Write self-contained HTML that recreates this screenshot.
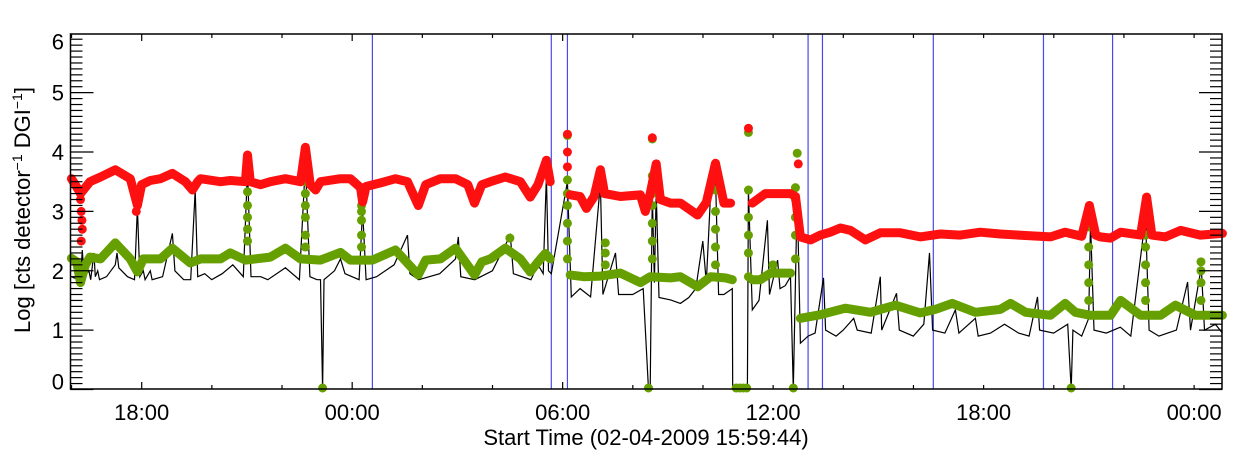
<!DOCTYPE html>
<html><head><meta charset="utf-8"><style>
html,body{margin:0;padding:0;background:#fff;}
svg{display:block;font-family:"Liberation Sans",sans-serif;}
</style></head><body>
<svg id="chart" width="1240" height="460" viewBox="0 0 1240 460">
<g id="vlines"></g><g id="black"></g><g id="green"></g><g id="red"></g><g id="axes"></g>
</svg>
<script>
// hours since start (15:59:44), log values
const redTimes=[0,0.11,0.26,0.53,0.83,1.25,1.68,1.88,2.0,2.25,2.54,2.88,3.25,3.45,3.6,3.68,4.25,4.53,4.96,5.02,5.10,5.39,5.67,6.10,6.53,6.67,6.81,6.96,7.10,7.67,7.95,8.24,8.30,8.40,8.81,9.24,9.58,9.89,10.1,10.52,10.95,11.3,11.49,11.7,11.94,12.37,12.8,13.08,13.3,13.54,13.65,null,
14.22,14.5,14.68,14.9,15.08,15.2,15.65,16.22,16.36,16.5,16.67,16.79,17.08,17.36,17.85,18.1,18.36,18.6,18.79,null,
19.41,19.78,20.5,20.64,20.78,21.07,21.35,21.63,21.92,22.21,22.63,23.06,23.63,24.20,24.77,25.34,25.91,26.48,27.0,27.91,28.33,28.8,29.02,29.2,29.33,29.62,29.91,30.48,30.65,30.8,31.19,31.62,32.18,32.81];
const redValues=[3.55,3.45,3.3,3.5,3.58,3.7,3.55,3.1,3.45,3.52,3.55,3.64,3.5,3.36,3.5,3.55,3.5,3.52,3.5,3.95,3.5,3.45,3.5,3.55,3.5,4.08,3.45,3.36,3.5,3.55,3.55,3.4,3.16,3.42,3.48,3.55,3.5,3.1,3.45,3.55,3.55,3.45,3.14,3.45,3.5,3.58,3.5,3.24,3.45,3.86,3.5,null,
3.28,3.25,3.05,3.25,3.7,3.3,3.25,3.28,3.0,3.3,3.8,3.2,3.14,3.14,2.94,3.15,3.81,3.14,3.14,null,
3.14,3.3,3.3,3.25,2.57,2.52,2.6,2.65,2.72,2.68,2.52,2.64,2.64,2.57,2.62,2.6,2.65,2.62,2.6,2.57,2.65,2.58,3.1,2.6,2.57,2.55,2.65,2.6,3.24,2.6,2.57,2.68,2.6,2.63];
const redDotTimes=[0.26,0.28,0.30,0.31,0.28,1.85,14.14,14.14,14.14,16.56,19.30,20.72,29.0,30.6];
const redDotValues=[3.2,3.0,2.85,2.7,2.5,3.0,4.3,4.0,3.75,4.24,4.4,3.8,2.9,3.0];

const greenTimes=[0,0.15,0.26,0.4,0.53,0.83,1.25,1.68,1.88,2.05,2.54,2.88,3.39,3.68,4.25,4.53,4.96,5.67,6.10,6.53,7.10,7.67,7.95,8.58,9.24,9.89,10.1,10.52,10.95,11.49,11.7,11.94,12.37,12.8,13.08,13.3,13.51,13.65,null,
14.22,14.6,15.08,15.65,16.22,16.5,17.08,17.36,17.85,18.22,18.64,18.84,null,
19.41,19.64,19.93,20.35,20.5,null,
20.78,21.35,22.06,22.78,23.49,24.20,24.63,25.11,25.77,26.48,26.77,27.2,27.91,28.33,28.62,29.05,29.62,29.91,30.48,31.05,31.47,32.04,32.81];
const greenValues=[2.21,2.15,1.8,2.1,2.23,2.2,2.47,2.2,1.98,2.2,2.2,2.38,2.13,2.2,2.2,2.3,2.18,2.23,2.38,2.2,2.18,2.31,2.18,2.18,2.35,1.93,2.18,2.2,2.38,1.93,2.15,2.2,2.38,2.2,1.98,2.15,2.29,2.2,null,
1.93,1.9,1.91,1.96,1.8,1.9,1.88,1.9,1.73,1.9,1.88,1.85,null,
1.85,1.85,1.96,1.96,1.96,null,
1.2,1.26,1.37,1.3,1.42,1.29,1.35,1.45,1.3,1.35,1.45,1.3,1.25,1.45,1.3,1.25,1.25,1.5,1.25,1.25,1.42,1.25,1.25];
const greenDotTimes=[5.02,5.02,5.02,5.02,5.02,6.67,6.67,6.67,6.67,6.67,6.67,6.67,8.27,8.27,8.27,8.27,8.27,12.5,
14.14,14.14,14.14,14.14,14.14,14.14,14.14,15.22,15.22,15.22,16.56,16.56,16.56,16.56,16.56,16.56,16.56,
18.36,18.36,18.36,18.36,18.36,19.30,19.30,19.30,19.30,19.30,19.30,20.0,20.64,20.64,20.64,20.64,20.64,20.69,
29.0,29.0,29.0,29.0,29.0,30.62,30.62,30.62,30.62,30.62,30.62,32.2,32.2,32.2,32.2,
7.16,16.45,18.95,19.05,19.15,19.25,20.58,28.50];
const greenDotValues=[2.5,2.7,2.9,3.1,3.33,2.4,2.6,2.9,3.1,3.3,3.5,3.7,2.4,2.6,2.85,3.0,3.1,2.55,
2.2,2.5,2.8,3.1,3.3,3.53,4.28,2.1,2.3,2.47,2.2,2.5,2.8,3.1,3.3,3.6,4.22,
2.1,2.4,2.7,3.0,3.36,1.9,2.3,2.6,2.9,3.36,4.33,2.1,2.2,2.6,2.9,3.2,3.4,3.98,
1.5,1.8,2.1,2.4,2.74,1.5,1.8,2.1,2.4,2.6,2.85,1.5,1.8,2.0,2.15,
0,0,0,0,0,0,0,0];

const blackTimes=[0,0.2,0.26,0.31,0.36,0.5,0.55,0.64,0.68,0.75,0.8,1.0,1.25,1.3,1.35,1.6,1.8,1.88,1.95,2.05,2.1,2.25,2.3,2.6,2.88,2.95,3.2,3.4,3.53,3.6,3.8,4.0,4.3,4.6,4.9,5.02,5.12,5.4,5.6,6.1,6.5,6.67,6.8,7.0,7.1,7.16,7.2,7.5,7.67,7.8,8.2,8.30,8.4,8.7,9.2,9.58,9.65,9.9,10.5,10.95,11.03,11.1,11.5,12.0,12.51,12.6,13.1,13.3,13.45,13.54,13.6,13.68,14.14,14.25,14.5,14.8,15.08,15.15,15.51,15.6,16.0,16.3,16.45,16.5,16.56,16.62,16.67,16.75,17.08,17.36,17.6,17.8,18.0,18.1,18.22,18.36,18.45,18.6,18.84,18.85,19.27,19.30,19.41,19.6,19.84,19.9,20.13,20.2,20.35,20.5,20.58,20.69,20.78,21.0,21.2,21.44,21.5,21.8,22.0,22.3,22.4,22.8,23.06,23.1,23.52,23.6,24.0,24.3,24.46,24.55,24.9,25.20,25.3,25.77,25.85,26.2,26.6,27.0,27.3,27.54,27.6,28.0,28.4,28.50,28.55,28.8,29.0,29.05,29.15,29.5,29.9,30.2,30.62,30.72,31.0,31.5,31.82,31.9,32.21,32.3,32.61,32.81];
const blackValues=[1.9,1.85,1.85,2.35,1.9,2.0,1.85,2.3,1.9,2.0,1.85,1.9,2.1,2.3,2.05,1.9,1.85,3.07,1.9,2.0,1.85,2.0,1.85,1.9,2.63,2.0,1.85,1.85,3.36,1.9,1.95,1.85,1.95,2.1,1.9,3.7,1.9,1.9,1.85,2.05,1.85,3.81,1.9,1.85,1.85,0,1.85,2.0,2.2,1.95,1.85,3.02,1.85,1.9,2.1,2.6,1.95,1.85,1.95,2.2,2.57,1.9,1.85,2.0,2.6,1.95,1.85,2.1,1.95,3.6,2.0,1.95,3.5,1.56,1.7,1.56,3.48,1.6,2.3,1.6,1.6,1.7,0,0,3.3,1.8,3.35,1.55,1.51,1.45,1.55,1.7,2.5,1.8,3.3,3.56,1.6,1.6,1.7,0,0,3.36,1.34,1.5,2.85,1.6,2.18,1.7,1.75,1.9,0,3.3,0.78,0.9,0.95,1.88,1.0,0.9,1.0,1.2,1.0,0.95,1.9,1.0,1.62,1.0,0.9,1.1,2.3,1.0,0.95,1.34,0.95,1.2,0.9,0.95,1.1,0.95,0.9,1.56,1.0,0.95,1.1,0,1.0,0.9,1.2,2.82,1.0,0.95,1.05,0.9,2.9,1.0,0.9,1.0,1.81,1.0,2.06,1.0,1.1,0.95];

const eventTimes=[8.58,13.68,14.14,21.0,21.41,24.57,27.71,29.68];
const xTickLabels=["18:00","00:00","06:00","12:00","18:00","00:00"];
const xTickHours=[2.004,8.004,14.004,20.004,26.004,32.004];
const yTickLabels=["0","1","2","3","4","5","6"];

const L=70.5,R=1222,T=34,B=389;
const xs=h=>71.4+h*35.08;
const ys=v=>389.5-v*59.37;
const NS="http://www.w3.org/2000/svg";
function mk(tag,parent,attrs){const e=document.createElementNS(NS,tag);for(const k in attrs)e.setAttribute(k,attrs[k]);parent.appendChild(e);return e;}
function paths(times,vals){let d="",pen=false;for(let i=0;i<times.length;i++){if(times[i]===null){pen=false;continue;}d+=(pen?"L":"M")+xs(times[i]).toFixed(1)+" "+ys(vals[i]).toFixed(1);pen=true;}return d;}

const gV=document.getElementById('vlines');
eventTimes.forEach(t=>{const l=mk('line',gV,{x1:xs(t),x2:xs(t),y1:T,y2:B,stroke:'#4848f0','stroke-width':1.2});

});

const gB=document.getElementById('black');
const bl=mk('path',gB,{d:paths(blackTimes,blackValues),fill:'none',stroke:'#000','stroke-width':1.2});



const gG=document.getElementById('green');
const gl=mk('path',gG,{d:paths(greenTimes,greenValues),fill:'none',stroke:'#66a000','stroke-width':9,'stroke-linecap':'round','stroke-linejoin':'round'});


greenDotTimes.forEach((t,i)=>{const c=mk('circle',gG,{cx:xs(t),cy:Math.min(ys(greenDotValues[i]),388),r:4.5,fill:'#66a000'});

});

const gR=document.getElementById('red');
const rl=mk('path',gR,{d:paths(redTimes,redValues),fill:'none',stroke:'#ff1010','stroke-width':9,'stroke-linecap':'round','stroke-linejoin':'round'});


redDotTimes.forEach((t,i)=>{const c=mk('circle',gR,{cx:xs(t),cy:ys(redDotValues[i]),r:4.5,fill:'#ff1010'});

});

const gA=document.getElementById('axes');
const fr=mk('rect',gA,{x:L,y:T,width:R-L,height:B-T,fill:'none',stroke:'#000','stroke-width':1.5});


for(let k=0;k<=60;k++){const v=k/10,y=ys(v);if(y<T-0.5)continue;const len=(k%10===0)?23:12;
mk('line',gA,{x1:L,x2:L+len,y1:y,y2:y,stroke:'#000','stroke-width':1.2});
mk('line',gA,{x1:R-len,x2:R,y1:y,y2:y,stroke:'#000','stroke-width':1.2});}
yTickLabels.forEach((s,i)=>{const t=mk('text',gA,{x:64,y:ys(+s)+8+(i===0?-8:0)+(i===6?8:0),'text-anchor':'end','font-size':22});t.textContent=s;

});
for(let h=0.004;h<=32.8;h+=2){const x=xs(h);if(x<L+1)continue;const major=Math.abs(((h-2.004)%6+6)%6)<0.01;const len=major?7:4;
mk('line',gA,{x1:x,x2:x,y1:B,y2:B-len,stroke:'#000','stroke-width':1.2});
mk('line',gA,{x1:x,x2:x,y1:T,y2:T+len,stroke:'#000','stroke-width':1.2});}
xTickLabels.forEach((s,i)=>{const t=mk('text',gA,{x:xs(xTickHours[i]),y:420,'text-anchor':'middle','font-size':22});t.textContent=s;

});
const xt=mk('text',gA,{x:646,y:445,'text-anchor':'middle','font-size':22});xt.textContent="Start Time (02-04-2009 15:59:44)";


const yt=mk('text',gA,{x:0,y:0,'text-anchor':'middle','font-size':22,transform:'translate(30,210) rotate(-90)'});
yt.innerHTML='Log [cts detector<tspan dy="-8" font-size="14">\u22121</tspan><tspan dy="8"> DGI</tspan><tspan dy="-8" font-size="14">\u22121</tspan><tspan dy="8">]</tspan>';


</script>
</body></html>
